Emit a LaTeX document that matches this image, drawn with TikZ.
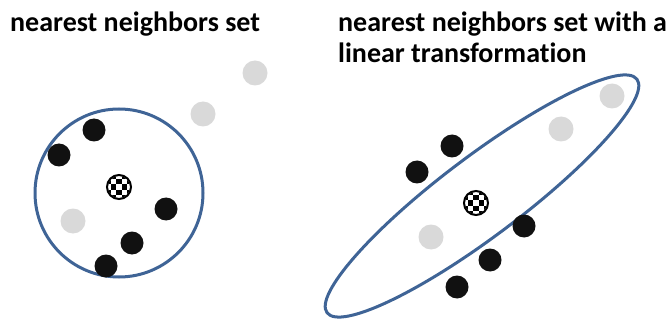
\documentclass[tikz,border=0pt]{standalone}
\usepackage{fontspec}
\setmainfont[Ligatures=NoCommon]{Carlito}
\usetikzlibrary{calc}
\definecolor{ringblue}{HTML}{3F6496}
\definecolor{dotgray}{HTML}{D9D9D9}
\definecolor{dotblack}{HTML}{111111}
\tikzset{
  blackdot/.style={circle,fill=dotblack,inner sep=0pt,minimum size=23pt},
  graydot/.style={circle,fill=dotgray,inner sep=0pt,minimum size=25pt},
  ring/.style={draw=ringblue,line width=3pt},
  titletext/.style={font=\bfseries\fontsize{28}{31}\selectfont,anchor=base west,inner sep=0pt},
  querydot/.style={circle,draw=black,line width=2pt,inner sep=0pt,minimum size=24pt}
}
\newcommand{\querypoint}[1]{%
  \begin{scope}
    \clip #1 circle (11pt);
    \fill[white] #1 circle (11pt);
    \foreach \i in {0,...,4}{\foreach \j in {0,...,4}{
      \pgfmathtruncatemacro{\chkpar}{mod(\i+\j,2)}
      \ifnum\chkpar=1 \fill[black] ($#1+(-13.75+5.5*\i,-13.75+5.5*\j)$) rectangle ++(5.5,5.5);\fi
    }}
  \end{scope}}
\begin{document}
\begin{tikzpicture}[x=1pt,y=-1pt]
\useasboundingbox (0,0) rectangle (668,320);
% titles
\node[titletext] (t1) at (10,32) {nearest neighbors set};
\node[titletext] (t2) at (338,32) {nearest neighbors set with a};
\node[titletext] (t3) at (338,63) {linear transformation};
% left circle
\draw[ring] (119,193) circle (84);
\node[graydot] (lg1) at (255,73) {};
\node[graydot] (lg2) at (203,114) {};
\node[blackdot] (lb1) at (94,130) {};
\node[blackdot] (lb2) at (59,155) {};
\node[blackdot] (lb3) at (166,209) {};
\node[graydot] (lg3) at (73,221) {};
\node[blackdot] (lb4) at (132,243) {};
\node[blackdot] (lb5) at (106,266) {};
\coordinate (lq) at (119,187);
\querypoint{(lq)}
\node[querydot] (lqd) at (lq) {};
% right ellipse
\draw[ring,rotate around={37:(482,196)}] (482,196) ellipse (194 and 40);
\node[graydot] (rg1) at (612,96) {};
\node[graydot] (rg2) at (561,129) {};
\node[blackdot] (rb1) at (452,146) {};
\node[blackdot] (rb2) at (417,172) {};
\node[blackdot] (rb3) at (524,226) {};
\node[graydot] (rg3) at (431,237) {};
\node[blackdot] (rb4) at (490,260) {};
\node[blackdot] (rb5) at (457,287) {};
\coordinate (rq) at (476,203);
\querypoint{(rq)}
\node[querydot] (rqd) at (rq) {};
\end{tikzpicture}
\end{document}
